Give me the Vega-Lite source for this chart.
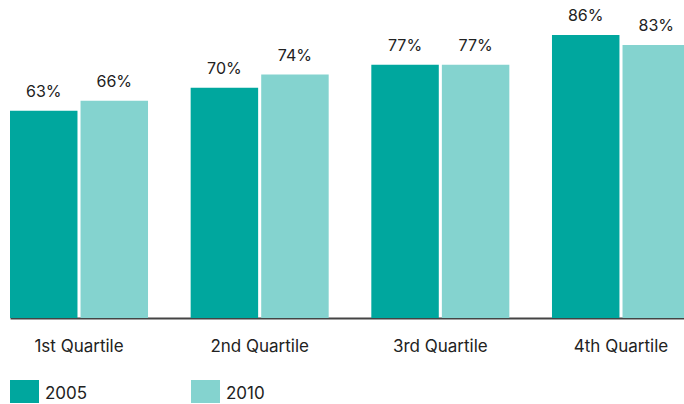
{
  "$schema": "https://vega.github.io/schema/vega-lite/v6.json",
  "autosize": "none",
  "width": 680,
  "height": 318,
  "padding": {"left": 10, "top": 0, "right": 0, "bottom": 86},
  "background": "white",
  "config": {"view": {"stroke": null}, "font": "Inter"},
  "data": {"values": [
    {"quartile": "1st Quartile", "year": "2005", "value": 0.63},
    {"quartile": "1st Quartile", "year": "2010", "value": 0.66},
    {"quartile": "2nd Quartile", "year": "2005", "value": 0.70},
    {"quartile": "2nd Quartile", "year": "2010", "value": 0.74},
    {"quartile": "3rd Quartile", "year": "2005", "value": 0.77},
    {"quartile": "3rd Quartile", "year": "2010", "value": 0.77},
    {"quartile": "4th Quartile", "year": "2005", "value": 0.86},
    {"quartile": "4th Quartile", "year": "2010", "value": 0.83}
  ]},
  "encoding": {
    "x": {"field": "quartile", "type": "nominal", "sort": null,
      "scale": {"paddingInner": 0.236, "paddingOuter": 0},
      "axis": {"title": null, "labelAngle": 0, "labelFontSize": 17, "labelColor": "#222222", "labelPadding": 20, "ticks": false, "domainColor": "#444444", "domainWidth": 2, "labelFont": "Inter"}},
    "xOffset": {"field": "year", "type": "nominal", "scale": {"paddingInner": 0.0435, "paddingOuter": 0}},
    "y": {"field": "value", "type": "quantitative", "scale": {"domain": [0, 0.9665], "nice": false, "zero": true}, "axis": null}
  },
  "layer": [
    {
      "mark": {"type": "bar"},
      "encoding": {
        "color": {"field": "year", "type": "nominal",
          "scale": {"domain": ["2005", "2010"], "range": ["#00A79E", "#84D3CF"]},
          "legend": {"title": null, "orient": "none", "legendX": 0, "legendY": 377, "direction": "horizontal",
            "symbolType": "M-1,-0.793H1V0.793H-1Z", "symbolSize": 841, "symbolStrokeWidth": 0, "symbolOpacity": 1,
            "labelFontSize": 17, "labelColor": "#222222", "labelOffset": 6, "columnPadding": 103, "labelFont": "Inter",
            "encode": {"labels": {"update": {"dy": {"value": 2}}}}}
        }
      }
    },
    {
      "mark": {"type": "text", "baseline": "alphabetic", "dy": -14, "fontSize": 16, "color": "#222222", "font": "Inter"},
      "encoding": {
        "text": {"field": "value", "type": "quantitative", "format": ".0%"},
        "detail": {"field": "year"}
      }
    }
  ]
}
